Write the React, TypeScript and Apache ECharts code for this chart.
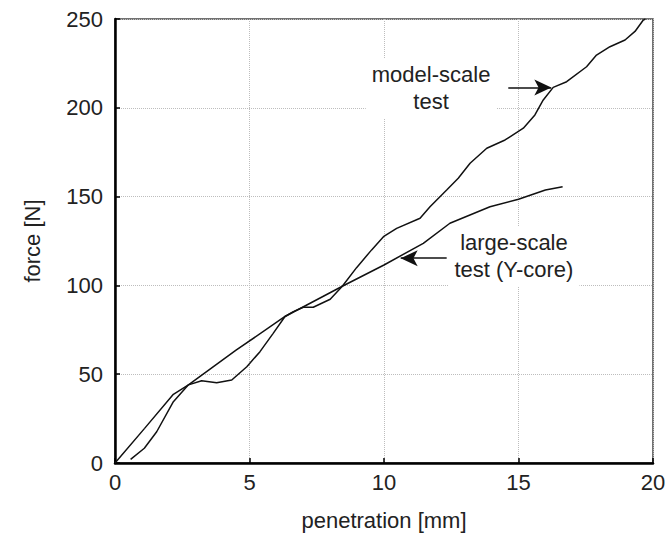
import React, { useEffect, useRef } from "react";
import * as echarts from "echarts";

const modelScale: [number, number][] = [
  [0.58, 2], [1.09, 8.3], [1.55, 17.6], [2.17, 34.5], [2.73, 44], [3.22, 46.3],
  [3.78, 45.2], [4.34, 46.7], [4.9, 54.2], [5.39, 62.7], [5.88, 73], [6.32, 82.5],
  [6.63, 85.2], [7.0, 87.7], [7.37, 87.7], [8.0, 92.2], [8.45, 99.5], [8.98, 110],
  [9.54, 120], [9.98, 127.4], [10.47, 132.1], [11.34, 137.8], [11.71, 144.3],
  [12.33, 153.7], [12.76, 160.3], [13.2, 168.8], [13.82, 177.2], [14.5, 181.9],
  [15.18, 188.5], [15.61, 196], [15.92, 204.4], [16.29, 211.5], [16.79, 214.7],
  [17.53, 223.1], [17.9, 229.7], [18.4, 234.4], [18.96, 238.2], [19.33, 243],
  [19.64, 249.4], [19.72, 250],
];

const largeScale: [number, number][] = [
  [0, 0], [1.1, 19.5], [2.17, 38.7], [2.73, 44], [4.5, 63.5], [6.32, 82.5],
  [8.45, 99.5], [10.0, 111.5], [11.46, 123.7], [12.45, 135], [13.94, 144.3],
  [15.0, 148.5], [16.0, 153.7], [16.64, 155.6],
];

const modelArrow: [number, number][] = [[14.62, 211.5], [16.22, 211.5]];
const largeArrow: [number, number][] = [[12.33, 115.3], [10.62, 115.3]];
const modelLabelPos: [number, number] = [11.75, 211];
const largeLabelPos: [number, number] = [14.83, 116.3];

const FONT = "'Liberation Sans', Arial, Helvetica, sans-serif";

export default function App() {
  const ref = useRef<HTMLDivElement>(null);
  useEffect(() => {
    if (!ref.current) return;
    const chart = echarts.init(ref.current, null, { renderer: "svg" });
    const labelStyle = {
      show: true,
      position: "inside",
      color: "#222",
      fontSize: 22,
      fontFamily: FONT,
      lineHeight: 27,
      align: "center",
      backgroundColor: "#fff",
      padding: [3, 6, 3, 6],
    };
    chart.setOption({
      animation: false,
      backgroundColor: "#fff",
      grid: {
        left: 115, top: 19, width: 538, height: 444,
        outerBoundsMode: "none",
        containLabel: false,
        show: true, borderColor: "#444", borderWidth: 1.5, backgroundColor: "transparent",
      },
      xAxis: {
        type: "value", min: 0, max: 20, interval: 5,
        name: "penetration [mm]", nameLocation: "middle", nameGap: 46,
        nameTextStyle: { fontSize: 22, color: "#222", fontFamily: FONT },
        axisLine: { show: true, lineStyle: { color: "#000", width: 2.5 } },
        axisTick: { show: true, inside: true, length: 5, lineStyle: { color: "#000", width: 1.5 } },
        axisLabel: { fontSize: 22, color: "#222", fontFamily: FONT, margin: 8 },
        splitLine: { show: true, lineStyle: { color: "#bdbdbd", type: "dotted", width: 1 } },
      },
      yAxis: {
        type: "value", min: 0, max: 250, interval: 50,
        name: "force [N]", nameLocation: "middle", nameGap: 72,
        nameTextStyle: { fontSize: 22, color: "#222", fontFamily: FONT },
        axisLine: { show: true, lineStyle: { color: "#000", width: 2.5 } },
        axisTick: { show: true, inside: true, length: 5, lineStyle: { color: "#000", width: 1.5 } },
        axisLabel: { fontSize: 22, color: "#222", fontFamily: FONT, margin: 12 },
        splitLine: { show: true, lineStyle: { color: "#bdbdbd", type: "dotted", width: 1 } },
      },
      series: [
        {
          name: "model-scale test",
          type: "line",
          data: modelScale,
          showSymbol: false,
          lineStyle: { color: "#111", width: 1.5 },
          z: 3,
          markLine: {
            silent: true,
            symbol: ["none", "arrow"],
            symbolSize: [12, 17],
            label: { show: false },
            lineStyle: { color: "#111", width: 1.5, type: "solid" },
            data: [[{ coord: modelArrow[0] }, { coord: modelArrow[1] }]],
          },
          markPoint: {
            silent: true,
            symbol: "rect",
            symbolSize: 1,
            itemStyle: { color: "rgba(0,0,0,0)" },
            label: { ...labelStyle, formatter: "model-scale\ntest" },
            data: [{ coord: modelLabelPos }],
          },
        },
        {
          name: "large-scale test (Y-core)",
          type: "line",
          data: largeScale,
          showSymbol: false,
          lineStyle: { color: "#111", width: 1.5 },
          z: 3,
          markLine: {
            silent: true,
            symbol: ["none", "arrow"],
            symbolSize: [12, 17],
            label: { show: false },
            lineStyle: { color: "#111", width: 1.5, type: "solid" },
            data: [[{ coord: largeArrow[0] }, { coord: largeArrow[1] }]],
          },
          markPoint: {
            silent: true,
            symbol: "rect",
            symbolSize: 1,
            itemStyle: { color: "rgba(0,0,0,0)" },
            label: { ...labelStyle, formatter: "large-scale\ntest (Y-core)" },
            data: [{ coord: largeLabelPos }],
          },
        },
      ],
    });
    return () => chart.dispose();
  }, []);
  return (
    <div
      ref={ref}
      style={{ position: "absolute", left: 0, top: 0, width: 666, height: 533 }}
    />
  );
}
